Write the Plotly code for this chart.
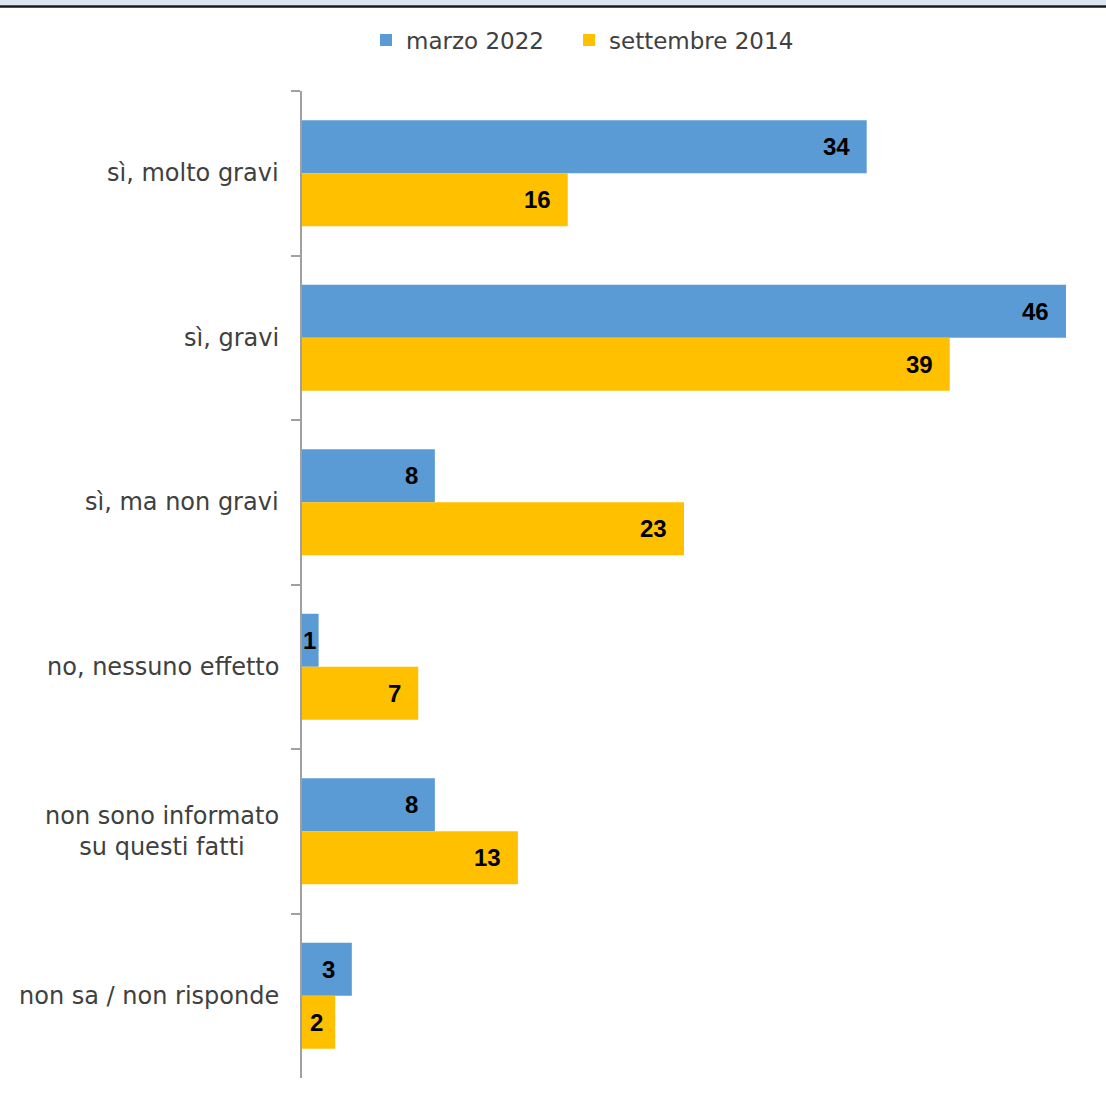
import plotly.graph_objects as go

categories = ["sì, molto gravi", "sì, gravi", "sì, ma non gravi", "no, nessuno effetto",
              "non sono informato<br>su questi fatti", "non sa / non risponde"]
marzo_2022 = [34, 46, 8, 1, 8, 3]
settembre_2014 = [16, 39, 23, 7, 13, 2]
series = [("marzo 2022", marzo_2022, "#5B9BD5"), ("settembre 2014", settembre_2014, "#FFC000")]

W, H = 1106, 1104
L, R, T, B = 302, 40, 91, 26
pw, ph = W - L - R, H - T - B
XMAX = 46
band = ph / len(categories)
bargap = 0.355
barh = band * (1 - bargap) / 2

def px_x(x):
    return (x - L) / pw

def px_y(y):
    return (H - B - y) / ph

fig = go.Figure()
annotations = []
legend_x = [366, 569]
legends = {}
for i, (name, vals, col) in enumerate(series):
    lg = "legend" if i == 0 else "legend2"
    fig.add_trace(go.Bar(y=categories, x=vals, orientation="h", name=name, legend=lg,
                         marker=dict(color=col, line=dict(width=0))))
    legends[lg] = dict(orientation="h", x=px_x(legend_x[i]), xanchor="left", y=px_y(40),
                       yanchor="middle", font=dict(family="DejaVu Sans", size=23, color="#404040"),
                       itemwidth=30, bgcolor="rgba(0,0,0,0)")
    yshift = barh / 2 if i == 0 else -barh / 2
    for cat, v in zip(categories, vals):
        barpx = v * pw / XMAX
        small = barpx < 25
        annotations.append(dict(
            x=0 if small else v, y=cat, xref="x", yref="y", text=f"<b>{v}</b>",
            showarrow=False, xanchor="left" if small else "right",
            xshift=-1 if small else (-10 if barpx < 40 else -15), yshift=yshift,
            font=dict(family="Liberation Sans", size=24, color="#000000")))

for cat in categories:
    annotations.append(dict(
        x=0, y=cat, xref="paper", yref="y", text=cat, showarrow=False,
        xanchor="right", xshift=-21, align="center",
        font=dict(family="DejaVu Sans", size=24, color="#404040")))

fig.update_layout(
    width=W, height=H,
    margin=dict(l=L, r=R, t=T, b=B),
    paper_bgcolor="#ffffff", plot_bgcolor="#ffffff",
    barmode="group", bargap=bargap, bargroupgap=0,
    font=dict(family="DejaVu Sans", size=22, color="#404040"),
    showlegend=True,
    legend=legends["legend"],
    legend2=legends["legend2"],
    xaxis=dict(range=[0, XMAX], visible=False, fixedrange=True),
    yaxis=dict(autorange="reversed", showline=True, linecolor="#a0a0a0", linewidth=2,
               ticks="outside", tickson="boundaries", ticklen=9, tickcolor="#a0a0a0",
               tickwidth=2, showgrid=False, showticklabels=False, fixedrange=True),
    annotations=annotations,
    shapes=[
        dict(type="rect", xref="paper", yref="paper", x0=px_x(0), x1=px_x(W), y0=px_y(5), y1=px_y(-2),
             fillcolor="#dbe5f1", line=dict(width=0), layer="above"),
        dict(type="line", xref="paper", yref="paper", x0=px_x(0), x1=px_x(W), y0=px_y(6.5), y1=px_y(6.5),
             line=dict(color="#1a1a1a", width=2.5), layer="above"),
    ],
)

fig.write_html("out.html", config={"displayModeBar": False},
               post_script="document.body.style.margin='0px';document.body.style.overflow='hidden';")
